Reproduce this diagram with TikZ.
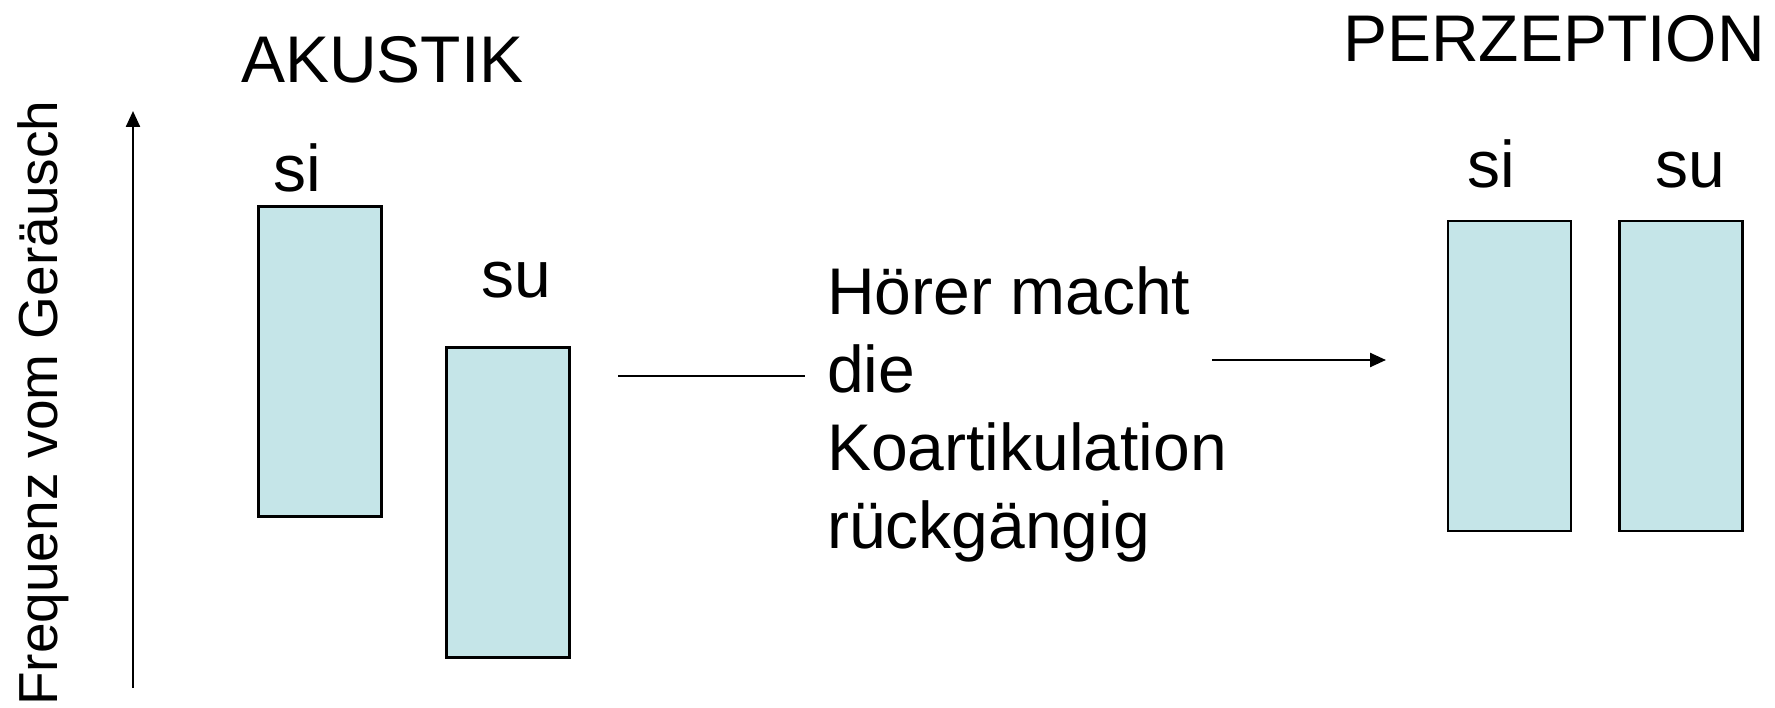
\documentclass[tikz,border=0pt]{standalone}
\usepackage{fontspec}
\setmainfont{Liberation Sans}
\usetikzlibrary{arrows.meta}
\definecolor{boxfill}{RGB}{197,229,232}
\begin{document}
\begin{tikzpicture}[x=1pt,y=-1pt,
  bar/.style={draw=black,line width=2.6pt,fill=boxfill,minimum width=123pt,minimum height=310pt,inner sep=0pt},
  lbl/.style={anchor=base west,inner sep=0pt,font=\fontsize{66}{78}\selectfont},
  conn/.style={line width=2.4pt},
  tip/.style={-{Triangle[length=16pt,width=14pt]}}]
\useasboundingbox (0,0) rectangle (1775,708);
% titles
\node[lbl] (ak) at (241,83) {AKUSTIK};
\node[lbl] (pe) at (1343,62) {PERZEPTION};
% axis
\coordinate (a0) at (133,688);
\coordinate (a1) at (133,111);
\draw[conn,tip] (a0) -- (a1);
\node[anchor=base west,inner sep=0pt,rotate=90,font=\fontsize{55}{66}\selectfont] (fr) at (57,706) {Frequenz vom Geräusch};
% left boxes
\node[bar] (b1) at (320,361.5) {};
\node[bar] (b2) at (508,502.5) {};
\node[lbl] (s1) at (273,192) {si};
\node[lbl] (s2) at (481,298) {su};
% middle
\coordinate (l0) at (618,376);
\coordinate (l1) at (805,376);
\draw[conn] (l0) -- (l1);
\node[lbl,align=left] (tx) at (827,548) {Hörer macht\\die\\Koartikulation\\rückgängig};
\coordinate (r0) at (1212,360);
\coordinate (r1) at (1386,360);
\draw[conn,tip] (r0) -- (r1);
% right boxes
\node[bar] (b3) at (1509.5,376) {};
\node[bar] (b4) at (1681,376) {};
\node[lbl] (s3) at (1467,188) {si};
\node[lbl] (s4) at (1655,188) {su};
\end{tikzpicture}
\end{document}
